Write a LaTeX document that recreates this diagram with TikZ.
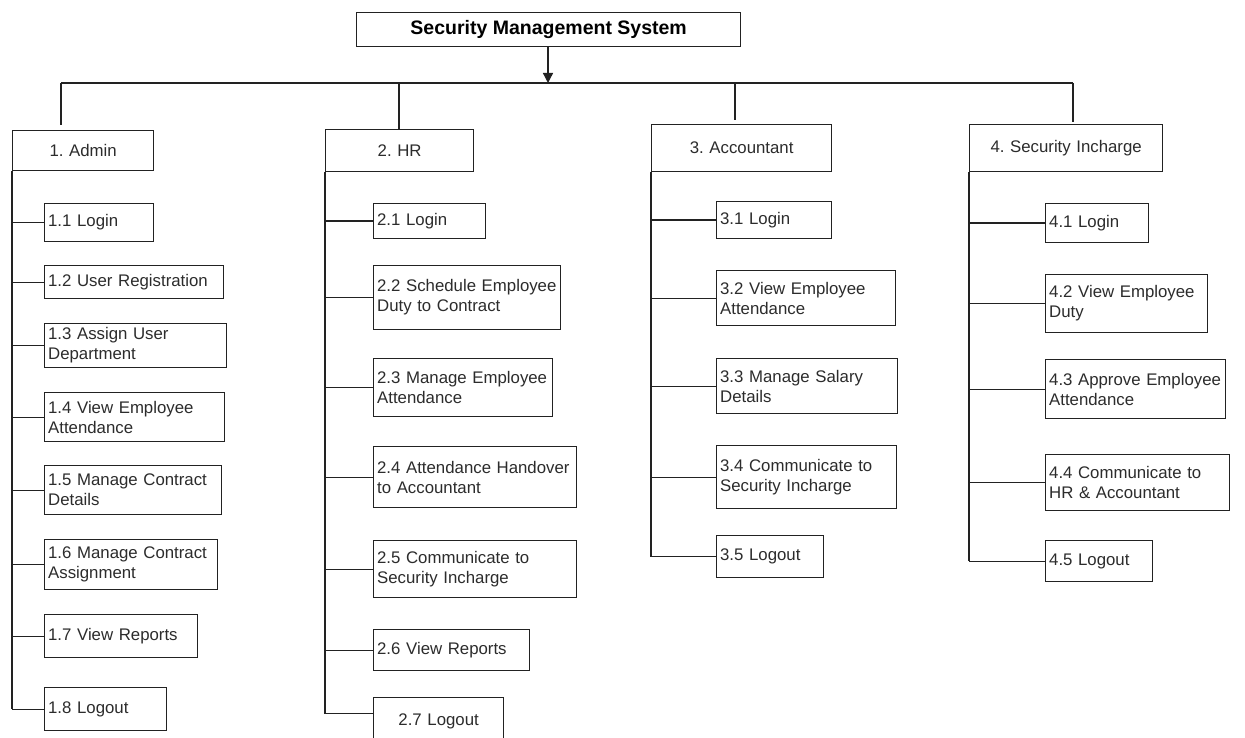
\documentclass[tikz,border=0pt]{standalone}
\usepackage{fontspec}
\setmainfont{Liberation Sans}
\usetikzlibrary{arrows.meta}
\definecolor{inkline}{HTML}{222222}
\definecolor{inktext}{HTML}{2c2c2c}
\tikzset{
  boxbase/.style={draw=inkline, line width=1.3pt, anchor=north west, inner ysep=0pt,
    text=inktext, font=\frenchspacing\fontsize{16.8}{20}\selectfont},
  leaf/.style={boxbase, inner xsep=3.5pt, align=left},
  leafc/.style={boxbase, inner xsep=3.5pt, align=center},
  head/.style={boxbase, inner xsep=0pt, align=center},
  wire/.style={draw=inkline, line width=1.3pt},
}
% box from (left,top) to (right,bottom), in pixel-like units
\newcommand\placebox[7]{%
  \pgfmathsetmacro\boxtw{#5-#3-7}%
  \pgfmathsetmacro\boxht{#6-#4}%
  \node[#1, text width=\boxtw pt, minimum height=\boxht pt] (#2) at (#3,#4) {#7};}
\begin{document}
\begin{tikzpicture}[x=1pt,y=-1pt]
  \clip (0,0) rectangle (1245,738);
  \fill[white] (0,0) rectangle (1245,738);

  % root
  \node[draw=inkline, line width=1.3pt, anchor=north west, minimum width=384pt, minimum height=34pt,
        inner sep=0pt, font=\bfseries\fontsize{19.5}{22}\selectfont, text=black]
        (root) at (356,12) {Security Management System};
  \coordinate (bus) at (548,83);
  \coordinate (d1) at (61,83);
  \coordinate (d2) at (399,83);
  \coordinate (d3) at (735,83);
  \coordinate (d4) at (1073,83);

  % second level
  \placebox{head}{h1}{12}{130}{160}{170}{1. Admin}
  \placebox{head}{h2}{325}{129}{480}{171}{2. HR}
  \placebox{head}{h3}{651}{124}{838}{171}{3. Accountant}
  \placebox{head}{h4}{969}{124}{1169}{171}{4. Security Incharge}

  % Admin
  \placebox{leaf}{a1}{44}{203}{153}{241}{1.1 Login}
  \placebox{leaf}{a2}{44}{265}{223}{298}{1.2 User Registration}
  \placebox{leaf}{a3}{44}{323}{226}{367}{1.3 Assign User\\Department}
  \placebox{leaf}{a4}{44}{392}{224}{441}{1.4 View Employee\\Attendance}
  \placebox{leaf}{a5}{44}{465}{221}{514}{1.5 Manage Contract\\Details}
  \placebox{leaf}{a6}{44}{539}{217}{589}{1.6 Manage Contract\\Assignment}
  \placebox{leaf}{a7}{44}{614}{197}{657}{1.7 View Reports}
  \placebox{leaf}{a8}{44}{687}{166}{730}{1.8 Logout}

  % HR
  \placebox{leaf}{b1}{373}{203}{485}{238}{2.1 Login}
  \placebox{leaf}{b2}{373}{265}{560}{329}{2.2 Schedule Employee\\Duty to Contract}
  \placebox{leaf}{b3}{373}{358}{552}{416}{2.3 Manage Employee\\Attendance}
  \placebox{leaf}{b4}{373}{446}{576}{507}{2.4 Attendance Handover\\to Accountant}
  \placebox{leaf}{b5}{373}{540}{576}{597}{2.5 Communicate to\\Security Incharge}
  \placebox{leaf}{b6}{373}{629}{529}{670}{2.6 View Reports}
  \placebox{leafc}{b7}{373}{697}{503}{745}{2.7 Logout}
  \coordinate (b7in) at ([yshift=8pt]b7.west);

  % Accountant
  \placebox{leaf}{c1}{716}{201}{831}{238}{3.1 Login}
  \placebox{leaf}{c2}{716}{270}{895}{325}{3.2 View Employee\\Attendance}
  \placebox{leaf}{c3}{716}{358}{897}{413}{3.3 Manage Salary\\Details}
  \placebox{leaf}{c4}{716}{445}{896}{508}{3.4 Communicate to\\Security Incharge}
  \placebox{leaf}{c5}{716}{535}{823}{577}{3.5 Logout}

  % Security Incharge
  \placebox{leaf}{e1}{1045}{203}{1148}{242}{4.1 Login}
  \placebox{leaf}{e2}{1045}{274}{1207}{332}{4.2 View Employee\\Duty}
  \placebox{leaf}{e3}{1045}{359}{1225}{418}{4.3 Approve Employee\\Attendance}
  \placebox{leaf}{e4}{1045}{454}{1229}{510}{4.4 Communicate to\\HR \& Accountant}
  \placebox{leaf}{e5}{1045}{540}{1152}{581}{4.5 Logout}

  % root to bus
  \draw[wire, -{Triangle[width=10pt,length=10pt]}] (root.south -| bus) -- (bus);
  \draw[wire] (d1) -- (d4);
  \draw[wire, shorten >=5pt] (d1) -- (d1 |- h1.north);
  \draw[wire] (d2) -- (d2 |- h2.north);
  \draw[wire, shorten >=4pt] (d3) -- (d3 |- h3.north);
  \draw[wire, shorten >=2pt] (d4) -- (d4 |- h4.north);

  % trunks
  \draw[wire] (h1.south west) -- (h1.south west |- a8.west);
  \draw[wire] (h2.south west) -- (h2.south west |- b7in);
  \draw[wire] (h3.south west) -- (h3.south west |- c5.west);
  \draw[wire] (h4.south west) -- (h4.south west |- e5.west);

  % branches
  \foreach \k in {a1,a2,a3,a4,a5,a6,a7,a8}
    \draw[wire] (h1.south west |- \k.west) -- (\k.west);
  \foreach \k in {b1,b2,b3,b4,b5,b6,b7in}
    \draw[wire] (h2.south west |- \k) -- (\k);
  \foreach \k in {c1,c2,c3,c4,c5}
    \draw[wire] (h3.south west |- \k.west) -- (\k.west);
  \foreach \k in {e1,e2,e3,e4,e5}
    \draw[wire] (h4.south west |- \k.west) -- (\k.west);
\end{tikzpicture}
\end{document}
